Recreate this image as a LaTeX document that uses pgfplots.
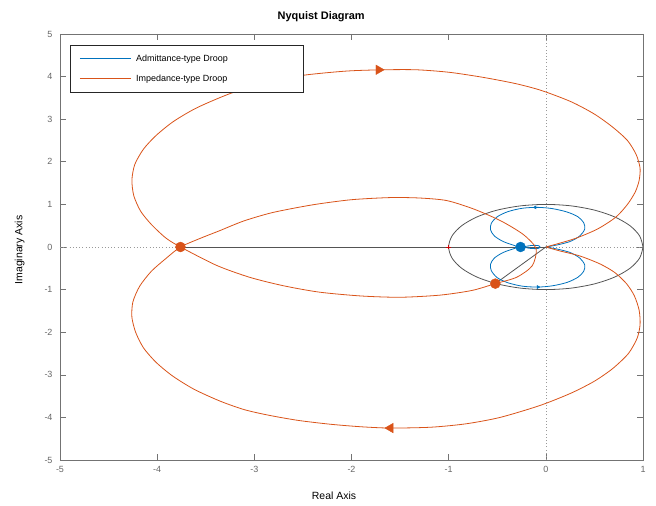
\documentclass[border=0pt]{standalone}
\usepackage{fontspec}
\setmainfont{Liberation Sans}
\usepackage{pgfplots}
\pgfplotsset{compat=1.18}
\definecolor{mblue}{rgb}{0,0.447,0.741}
\definecolor{morange}{rgb}{0.85,0.325,0.098}
\definecolor{axgray}{gray}{0.45}
\definecolor{lgray}{gray}{0.33}
\begin{document}
\begin{tikzpicture}
\begin{axis}[
  at={(0,0)}, anchor=south west,
  scale only axis, width=583bp, height=426bp,
  xmin=-5, xmax=1, ymin=-5, ymax=5,
  xtick={-5,-4,-3,-2,-1,0,1}, ytick={-5,-4,-3,-2,-1,0,1,2,3,4,5},
  tick align=inside, major tick length=6bp,
  axis line style={axgray, line width=0.7pt},
  every tick/.style={axgray, line width=0.6pt},
  tick label style={font=\fontsize{9}{11}\selectfont, text=black!60},
  yticklabel style={xshift=-4bp},
  xticklabel style={yshift=-3bp},
  /pgf/number format/assume math mode=true,
  title={Nyquist Diagram},
  title style={font=\fontsize{11}{13}\selectfont\bfseries, at={(axis description cs:0.448,1.026)}, anchor=center},
  xlabel={Real Axis},
  xlabel style={font=\fontsize{10.5}{12}\selectfont, at={(axis description cs:0.47,-0.084)}, anchor=center},
  ylabel={Imaginary Axis},
  ylabel style={font=\fontsize{10.5}{12}\selectfont, at={(axis description cs:-0.069,0.493)}, anchor=center},
  legend style={at={(axis description cs:0.0172,0.974)}, anchor=north west, draw=black!85, line width=0.7pt, fill=white, font=\fontsize{9}{11}\selectfont, inner xsep=8bp, inner ysep=7.5bp, row sep=8bp, nodes={inner ysep=2bp}},
  legend cell align=left,
  legend image code/.code={\draw[#1, line width=0.9pt] (0bp,0bp) -- (51bp,0bp); \path (-1bp,0bp) (54bp,0bp);},
]
% zero lines
\addplot[forget plot, gray!80, line width=0.6pt, dash pattern=on 0.8bp off 2.4bp] coordinates {(-5,0) (1,0)};
\addplot[forget plot, gray!80, line width=0.6pt, dash pattern=on 0.8bp off 2.4bp] coordinates {(0,-5) (0,5)};
% unit circle
\addplot[forget plot, lgray, line width=0.8pt, smooth] coordinates {
(1,0) (0.9659,0.2588) (0.8660,0.5) (0.7071,0.7071) (0.5,0.8660) (0.2588,0.9659) (0,1)
(-0.2588,0.9659) (-0.5,0.8660) (-0.7071,0.7071) (-0.8660,0.5) (-0.9659,0.2588) (-1,0)
(-0.9659,-0.2588) (-0.8660,-0.5) (-0.7071,-0.7071) (-0.5,-0.8660) (-0.2588,-0.9659) (0,-1)
(0.2588,-0.9659) (0.5,-0.8660) (0.7071,-0.7071) (0.8660,-0.5) (0.9659,-0.2588) (1,0)};
% margin lines
\addplot[forget plot, lgray, line width=0.8pt] coordinates {(-3.76,0) (0,0)};
\addplot[forget plot, lgray, line width=0.8pt] coordinates {(0,0) (-0.52,-0.86)};
% blue curve
\addplot[color=mblue, line width=0.8pt, smooth, tension=0.5] coordinates {
(0,0) (0.12,0.05) (0.25,0.13) (0.35,0.26) (0.40,0.42) (0.39,0.57) (0.33,0.71) (0.22,0.82)
(0.07,0.90) (-0.08,0.93) (-0.24,0.91) (-0.39,0.83) (-0.50,0.71) (-0.56,0.56) (-0.57,0.41)
(-0.53,0.26) (-0.44,0.13) (-0.33,0.04) (-0.26,0) (-0.15,0.035) (-0.08,0.035) (-0.06,0)
(-0.08,-0.035) (-0.15,-0.035) (-0.26,0) (-0.33,-0.04) (-0.44,-0.13) (-0.53,-0.26) (-0.57,-0.41)
(-0.56,-0.56) (-0.50,-0.72) (-0.39,-0.84) (-0.24,-0.92) (-0.08,-0.94) (0.07,-0.91) (0.22,-0.83)
(0.33,-0.71) (0.39,-0.57) (0.40,-0.42) (0.35,-0.26) (0.25,-0.13) (0.12,-0.05) (0,0)};
\addlegendentry{\makebox[157bp][l]{Admittance-type Droop}}
% orange curve
\addplot[color=morange, line width=0.8pt, smooth, tension=0.45] coordinates {
(0,0) (0.14,-0.09) (0.35,-0.21) (0.56,-0.40) (0.71,-0.60) (0.83,-0.86) (0.91,-1.14)
(0.96,-1.48) (0.97,-1.82) (0.94,-2.14) (0.85,-2.50) (0.69,-2.85) (0.50,-3.15) (0.26,-3.43)
(-0.06,-3.72) (-0.47,-4.00) (-0.82,-4.15) (-1.18,-4.23) (-1.60,-4.25) (-1.90,-4.22)
(-2.22,-4.16) (-2.55,-4.07) (-2.85,-3.95) (-3.10,-3.82) (-3.35,-3.62) (-3.62,-3.34)
(-3.84,-3.03) (-4.01,-2.71) (-4.14,-2.37) (-4.22,-2.01) (-4.26,-1.65) (-4.25,-1.29)
(-4.18,-0.92) (-4.06,-0.57) (-3.91,-0.27) (-3.76,0) (-3.56,0.20) (-3.36,0.38) (-3.11,0.61)
(-2.81,0.81) (-2.40,0.99) (-2.00,1.11) (-1.60,1.16) (-1.30,1.15) (-1.02,1.09) (-0.74,0.89)
(-0.46,0.61) (-0.23,0.29) (-0.10,-0.04) (-0.14,-0.44) (-0.30,-0.71) (-0.52,-0.86)
(-0.76,-1.02) (-1.09,-1.13) (-1.50,-1.18) (-1.90,-1.15) (-2.33,-1.06) (-2.70,-0.91)
(-3.05,-0.71) (-3.39,-0.43) (-3.76,0) (-3.91,0.21) (-4.06,0.53) (-4.17,0.84) (-4.24,1.20)
(-4.26,1.57) (-4.23,1.94) (-4.14,2.30) (-4.01,2.62) (-3.83,2.95) (-3.59,3.27) (-3.24,3.61)
(-2.88,3.86) (-2.50,4.03) (-2.05,4.13) (-1.67,4.16) (-1.33,4.16) (-0.99,4.10) (-0.64,3.98)
(-0.30,3.83) (-0.04,3.67) (0.26,3.41) (0.50,3.12) (0.69,2.81) (0.84,2.50) (0.93,2.17)
(0.97,1.85) (0.96,1.56) (0.92,1.29) (0.84,1.00) (0.72,0.70) (0.53,0.42) (0.29,0.19) (0,0)};
\addlegendentry{\makebox[157bp][l]{Impedance-type Droop}}
% direction arrows
\addplot[forget plot, only marks, mark=triangle*, mark size=5.5pt, color=morange, mark options={rotate=-90}] coordinates {(-1.72,4.16)};
\addplot[forget plot, only marks, mark=triangle*, mark size=5.5pt, color=morange, mark options={rotate=90}] coordinates {(-1.60,-4.25)};
\addplot[forget plot, only marks, mark=triangle*, mark size=1.8pt, color=mblue, mark options={rotate=90}] coordinates {(-0.11,0.93)};
\addplot[forget plot, only marks, mark=triangle*, mark size=1.8pt, color=mblue, mark options={rotate=-90}] coordinates {(-0.08,-0.94)};
% critical point
\addplot[forget plot, only marks, mark=+, mark size=2.5pt, color=red!80!black, line width=0.6pt] coordinates {(-1,0)};
% margin points
\addplot[forget plot, only marks, mark=*, mark size=5pt, color=morange] coordinates {(-3.76,0) (-0.52,-0.86)};
\addplot[forget plot, only marks, mark=*, mark size=5pt, color=mblue] coordinates {(-0.26,0)};
\end{axis}
\pgfresetboundingbox
\path[use as bounding box] (-60bp,-46bp) rectangle (596bp,460bp);
\end{tikzpicture}
\end{document}
